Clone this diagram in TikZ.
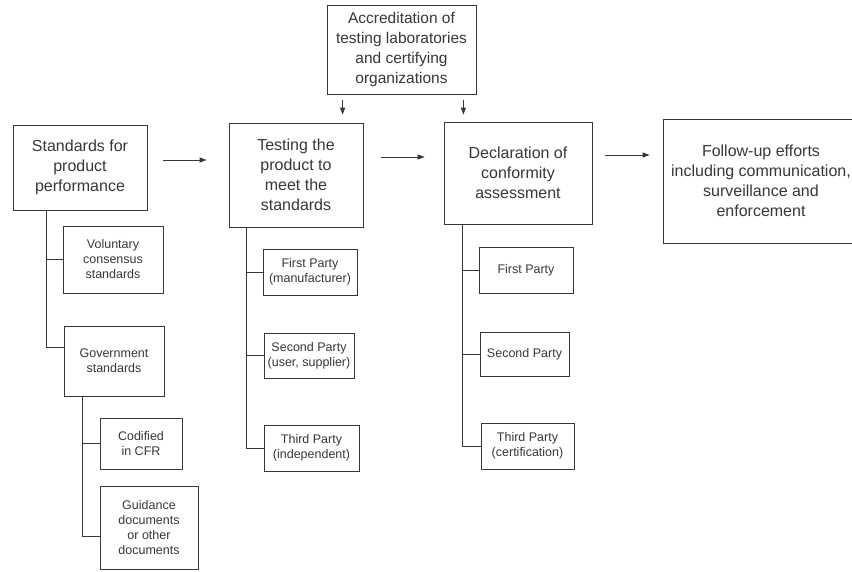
\documentclass[tikz,border=0pt]{standalone}
\usepackage{fontspec}
\setmainfont{Liberation Sans}
\usetikzlibrary{arrows.meta}
\definecolor{ink}{RGB}{55,55,55}
\begin{document}
\begin{tikzpicture}[x=1pt,y=-1pt,
  bigbox/.style={draw=ink,line width=0.8pt,text=ink,align=center,inner sep=0pt,font=\fontsize{16}{20}\selectfont},
  subbox/.style={draw=ink,line width=0.8pt,text=ink,align=center,inner sep=0pt,font=\fontsize{12.5}{15}\selectfont},
  flow/.style={draw=ink,line width=0.8pt,-{Triangle[length=7pt,width=5pt]}},
  branch/.style={draw=ink,line width=0.8pt}]
\path[use as bounding box] (0,0) rectangle (852,571);
% main chain
\node[bigbox,minimum width=134pt,minimum height=85pt] (std) at (80,167.5) {Standards for\\product\\performance};
\node[bigbox,minimum width=134pt,minimum height=104pt] (test) at (296,175) {Testing the\\product to\\meet the\\standards};
\node[bigbox,minimum width=148pt,minimum height=102pt] (decl) at (518,173) {Declaration of\\conformity\\assessment};
\node[bigbox,minimum width=196pt,minimum height=124pt] (fol) at (761,181) {Follow-up efforts\\including communication,\\surveillance and\\enforcement};
\node[bigbox,minimum width=149pt,minimum height=89pt,font=\fontsize{15.5}{20}\selectfont] (acc) at (401.5,49.5) {Accreditation of\\testing laboratories\\and certifying\\organizations};
% standards branches
\node[subbox,minimum width=100pt,minimum height=67pt] (vol) at (113,259.5) {Voluntary\\consensus\\standards};
\node[subbox,minimum width=100pt,minimum height=70pt] (gov) at (114,361) {Government\\standards};
\node[subbox,minimum width=82pt,minimum height=51pt] (cfr) at (141,443.5) {Codified\\in CFR};
\node[subbox,minimum width=98pt,minimum height=83pt] (guid) at (149,527.5) {Guidance\\documents\\or other\\documents};
% testing branches
\node[subbox,minimum width=94pt,minimum height=46pt] (tpa) at (310,272) {First Party\\(manufacturer)};
\node[subbox,minimum width=90pt,minimum height=45pt] (tpb) at (309,355.5) {Second Party\\(user, supplier)};
\node[subbox,minimum width=95pt,minimum height=46pt] (tpc) at (311.5,448) {Third Party\\(independent)};
% declaration branches
\node[subbox,minimum width=94pt,minimum height=46pt] (dpa) at (526,270) {First Party};
\node[subbox,minimum width=89pt,minimum height=44pt] (dpb) at (524.5,354) {Second Party};
\node[subbox,minimum width=93pt,minimum height=46pt] (dpc) at (527.5,446) {Third Party\\(certification)};
% arrows
\draw[flow,shorten <=16pt,shorten >=22pt] ([yshift=7.5pt]std.east) -- ([yshift=7.5pt]std.east -| test.west);
\draw[flow,shorten <=18pt,shorten >=19pt] ([yshift=18pt]test.east) -- ([yshift=18pt]test.east -| decl.west);
\draw[flow,shorten <=13pt,shorten >=13pt] ([yshift=18pt]decl.east) -- ([yshift=18pt]decl.east -| fol.west);
\draw[flow,shorten <=6pt,shorten >=8pt] ([xshift=16pt]acc.south west) -- ([xshift=16pt]acc.south west |- test.north);
\draw[flow,shorten <=6pt,shorten >=7pt] ([xshift=-13pt]acc.south east) -- ([xshift=-13pt]acc.south east |- decl.north);
% tree lines
\draw[branch] ([xshift=34pt]std.south west) |- (vol.west);
\draw[branch] ([xshift=34pt]std.south west) |- ([yshift=14pt]gov.west);
\draw[branch] ([xshift=19pt]gov.south west) |- (cfr.west);
\draw[branch] ([xshift=19pt]gov.south west) |- ([yshift=-8.5pt]guid.west);
\draw[branch] ([xshift=18pt]test.south west) |- (tpa.west);
\draw[branch] ([xshift=18pt]test.south west) |- (tpb.west);
\draw[branch] ([xshift=18pt]test.south west) |- (tpc.west);
\draw[branch] ([xshift=19pt]decl.south west) |- (dpa.west);
\draw[branch] ([xshift=19pt]decl.south west) |- (dpb.west);
\draw[branch] ([xshift=19pt]decl.south west) |- (dpc.west);
\end{tikzpicture}
\end{document}
